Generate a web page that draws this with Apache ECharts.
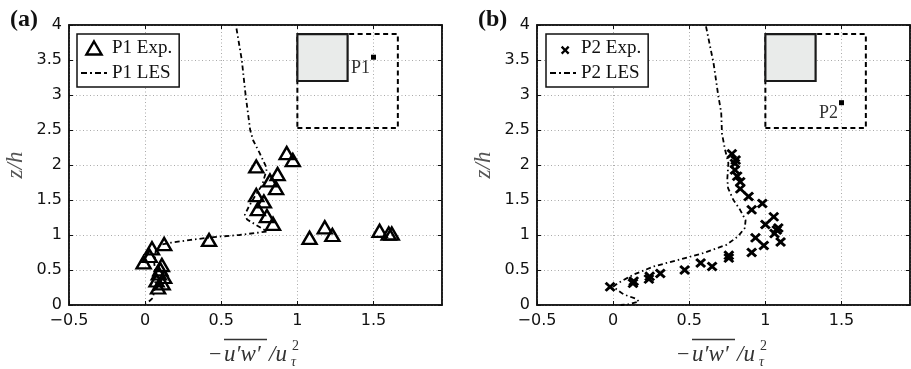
<!DOCTYPE html>
<html><head><meta charset="utf-8">
<script src="https://cdn.jsdelivr.net/npm/echarts@6/dist/echarts.min.js"></script>
<style>html,body{margin:0;padding:0;background:#fff}#c{width:911px;height:369px}</style>
</head><body><div id="c"></div>
<script>
// ---------- data ----------
const xTickValues = [-0.5, 0, 0.5, 1, 1.5];
const yTickValues = [0, 0.5, 1, 1.5, 2, 2.5, 3, 3.5, 4];
const panelLabels = ['(a)', '(b)'];
const expNames = ['P1 Exp.', 'P2 Exp.'];
const lesNames = ['P1 LES', 'P2 LES'];
const pointNames = ['P1', 'P2'];

const p1Exp = [[-0.01,0.61],[0.03,0.70],[0.045,0.81],[0.125,0.87],[0.11,0.57],[0.10,0.51],[0.09,0.45],[0.125,0.40],[0.075,0.35],[0.115,0.31],[0.085,0.25],[0.42,0.93],[0.84,1.16],[0.80,1.27],[0.74,1.37],[0.78,1.48],[0.73,1.57],[0.86,1.67],[0.82,1.78],[0.87,1.87],[0.73,1.98],[0.93,2.17],[0.97,2.07],[1.08,0.96],[1.18,1.11],[1.23,1.0],[1.54,1.06],[1.6,1.02],[1.62,1.02]];
const p1Les = [[0.60,3.95],[0.635,3.5],[0.66,3.0],[0.69,2.5],[0.71,2.35],[0.75,2.18],[0.80,1.95],[0.77,1.72],[0.72,1.55],[0.68,1.4],[0.655,1.29],[0.67,1.22],[0.74,1.13],[0.80,1.05],[0.62,1.0],[0.45,0.97],[0.3,0.93],[0.17,0.89],[0.10,0.86],[0.07,0.78],[0.06,0.6],[0.07,0.4],[0.06,0.2],[0.05,0.1],[0.01,0.02]];
const p2Exp = [[-0.02,0.26],[0.13,0.31],[0.135,0.34],[0.235,0.37],[0.24,0.41],[0.31,0.45],[0.47,0.50],[0.575,0.60],[0.65,0.55],[0.76,0.71],[0.76,0.67],[0.91,0.75],[0.935,0.96],[0.99,0.85],[1.10,0.90],[1.06,1.02],[1.075,1.07],[1.085,1.10],[1.0,1.15],[1.055,1.26],[0.98,1.45],[0.91,1.36],[0.89,1.55],[0.835,1.66],[0.835,1.76],[0.815,1.84],[0.80,1.93],[0.80,2.02],[0.805,2.07],[0.78,2.16]];
const p2Les = [[0.61,3.98],[0.66,3.45],[0.69,3.0],[0.71,2.75],[0.715,2.45],[0.735,2.22],[0.757,2.03],[0.75,1.8],[0.755,1.67],[0.79,1.5],[0.834,1.36],[0.87,1.21],[0.865,1.10],[0.82,0.98],[0.745,0.86],[0.59,0.74],[0.42,0.64],[0.265,0.55],[0.13,0.43],[0.03,0.31],[0.0,0.26],[0.07,0.15],[0.15,0.09],[0.17,0.05],[0.10,0.01],[0.05,0.0]];

// inset sketch (data units): building block and domain, probe points
const insetBlock = [[1.0, 3.2], [1.33, 3.87]];
const insetDomain = [[1.0, 2.53], [1.66, 3.87]];
const probePoints = [[1.5, 3.54], [1.5, 2.89]];

// ---------- styling ----------
const INK = '#111';
const crossPath = 'path://M0,1.9L1.9,0L5,3.1L8.1,0L10,1.9L6.9,5L10,8.1L8.1,10L5,6.9L1.9,10L0,8.1L3.1,5Z';
const crossLegendPath = 'path://M-5,-5L-5,-5M0,1.9L1.9,0L5,3.1L8.1,0L10,1.9L6.9,5L10,8.1L8.1,10L5,6.9L1.9,10L0,8.1L3.1,5Z';
const triPath = 'path://M7,0L14,12L0,12Z';
const dashDotPath = 'path://M0,0h6v1.8h-6zM9,0h2v1.8h-2zM14,0h6v1.8h-6zM23,0h3v1.8h-3z';
const gridRects = [{left: 69, top: 25, width: 373, height: 280}, {left: 537, top: 25, width: 373, height: 280}];
const fmtX = v => xTickValues.includes(v) ? String(v).replace('-', '\u2212') : '';
const fmtY = v => yTickValues.includes(v) ? String(v) : '';
const tickFont = {fontFamily: 'DejaVu Sans', fontSize: 16, color: INK};
const serif = 'Liberation Serif';

const grid = [], xAxis = [], yAxis = [], series = [], legend = [], graphic = [];
const expData = [p1Exp, p2Exp], lesData = [p1Les, p2Les];

for (let g = 0; g < 2; g++) {
  grid.push(Object.assign({show: true, borderColor: INK, borderWidth: 1.5, backgroundColor: '#fff'}, gridRects[g]));
  const xi = xAxis.length, yi = yAxis.length;
  xAxis.push({
    type: 'value', gridIndex: g, min: -0.5, max: 1.95, interval: 0.5,
    axisLine: {show: true, onZero: false, lineStyle: {color: INK, width: 1.5}},
    axisTick: {show: true, inside: true, length: 4, lineStyle: {color: INK}},
    axisLabel: Object.assign({showMaxLabel: false, margin: 8, formatter: fmtX}, tickFont),
    splitLine: {show: true, lineStyle: {type: [1, 2.5], color: '#aaa', width: 1}}
  });
  xAxis.push({
    type: 'value', gridIndex: g, position: 'top', min: -0.5, max: 1.95, interval: 0.5,
    axisLine: {show: true, onZero: false, lineStyle: {color: INK, width: 1.5}},
    axisTick: {show: true, inside: true, length: 4, lineStyle: {color: INK}},
    axisLabel: {show: false}, splitLine: {show: false}
  });
  yAxis.push({
    type: 'value', gridIndex: g, min: 0, max: 4, interval: 0.5,
    name: 'z/h', nameLocation: 'middle', nameGap: 42, nameRotate: 90,
    nameTextStyle: {fontFamily: serif, fontStyle: 'italic', fontSize: 23, color: '#555'},
    axisLine: {show: true, onZero: false, lineStyle: {color: INK, width: 1.5}},
    axisTick: {show: true, inside: true, length: 4, lineStyle: {color: INK}},
    axisLabel: Object.assign({margin: 7, formatter: fmtY}, tickFont),
    splitLine: {show: true, lineStyle: {type: [1, 2.5], color: '#aaa', width: 1}}
  });
  yAxis.push({
    type: 'value', gridIndex: g, position: 'right', min: 0, max: 4, interval: 0.5,
    axisLine: {show: true, onZero: false, lineStyle: {color: INK, width: 1.5}},
    axisTick: {show: true, inside: true, length: 4, lineStyle: {color: INK}},
    axisLabel: {show: false}, splitLine: {show: false}
  });

  // inset sketch
  series.push({
    type: 'scatter', xAxisIndex: xi, yAxisIndex: yi, silent: true, z: 2,
    data: [probePoints[g]], symbol: 'rect', symbolSize: 5,
    itemStyle: {color: '#000', opacity: 1},
    label: {show: true, formatter: pointNames[g], position: 'left', distance: 1, offset: [0, 11],
            fontFamily: serif, fontSize: 18, color: '#333'},
    markArea: {
      silent: true, label: {show: false},
      data: [
        [{coord: insetDomain[0], itemStyle: {color: 'rgba(0,0,0,0)', borderColor: '#000', borderWidth: 2, borderType: [5, 3.5], opacity: 1}}, {coord: insetDomain[1]}],
        [{coord: insetBlock[0], itemStyle: {color: '#e9ebea', borderColor: '#1a1a1a', borderWidth: 2.2, borderType: 'solid', opacity: 1}}, {coord: insetBlock[1]}]
      ]
    }
  });
  // LES line
  series.push({
    name: lesNames[g], type: 'line', xAxisIndex: xi, yAxisIndex: yi, z: 3,
    data: lesData[g], showSymbol: false, symbol: 'none', smooth: false,
    itemStyle: {color: '#000'},
    lineStyle: {color: '#000', width: 1.8, type: [5, 3, 1.5, 3]}
  });
  // Experiment markers
  series.push(g === 0 ? {
    name: expNames[g], type: 'scatter', xAxisIndex: xi, yAxisIndex: yi, z: 4,
    data: expData[g], symbol: 'triangle', symbolSize: [14, 12],
    itemStyle: {color: 'rgba(0,0,0,0)', borderColor: '#000', borderWidth: 2.4, opacity: 1}
  } : {
    name: expNames[g], type: 'scatter', xAxisIndex: xi, yAxisIndex: yi, z: 4,
    data: expData[g], symbol: crossPath, symbolSize: [11, 10],
    itemStyle: {color: '#000', opacity: 1}
  });

  legend.push({
    left: g === 0 ? 77 : 546, top: 34, orient: 'vertical', selectedMode: false,
    backgroundColor: '#fff', borderColor: INK, borderWidth: 1.5, borderRadius: 0,
    padding: [3, 7, 3, 4], itemGap: 3, itemWidth: 26, itemHeight: 13,
    symbolKeepAspect: true,
    textStyle: {fontFamily: serif, fontSize: 19, color: INK, lineHeight: 22},
    data: [
      g === 0 ? {name: expNames[g], icon: triPath, itemStyle: {color: 'rgba(0,0,0,0)', borderColor: '#000', borderWidth: 2.4, opacity: 1}}
              : {name: expNames[g], icon: crossLegendPath, itemStyle: {color: '#000', opacity: 1}},
      {name: lesNames[g], icon: dashDotPath, itemStyle: {color: '#000', borderWidth: 0, opacity: 1}}
    ]
  });

  // panel label
  const dx = g * 468;
  graphic.push({type: 'text', left: g === 0 ? 10 : 478, top: 8, z: 10,
    style: {text: panelLabels[g], fontFamily: serif, fontWeight: 'bold', fontSize: 24, fill: INK}});
  // x-axis name: -overline(u'w') / u_tau^2
  const ts = {fontFamily: serif, fill: '#333', verticalAlign: 'middle'};
  graphic.push({type: 'group', x: dx, y: 0, z: 10, children: [
    {type: 'text', x: 209, y: 355, style: Object.assign({text: '\u2212', fontSize: 22}, ts)},
    {type: 'text', x: 224, y: 355, style: Object.assign({text: 'u\u2032w\u2032', fontSize: 23, fontStyle: 'italic'}, ts)},
    {type: 'line', shape: {x1: 224, y1: 339.5, x2: 267, y2: 339.5}, style: {stroke: '#333', lineWidth: 1.3}},
    {type: 'text', x: 269, y: 355, style: Object.assign({text: '/u', fontSize: 23, fontStyle: 'italic'}, ts)},
    {type: 'text', x: 292, y: 346, style: Object.assign({text: '2', fontSize: 14}, ts)},
    {type: 'text', x: 291, y: 362, style: Object.assign({text: '\u03c4', fontSize: 14, fontStyle: 'italic'}, ts)}
  ]});
}

const chart = echarts.init(document.getElementById('c'), null, {renderer: 'canvas'});
chart.setOption({animation: false, backgroundColor: '#fff', grid, xAxis, yAxis, series, legend, graphic});
</script></body></html>
